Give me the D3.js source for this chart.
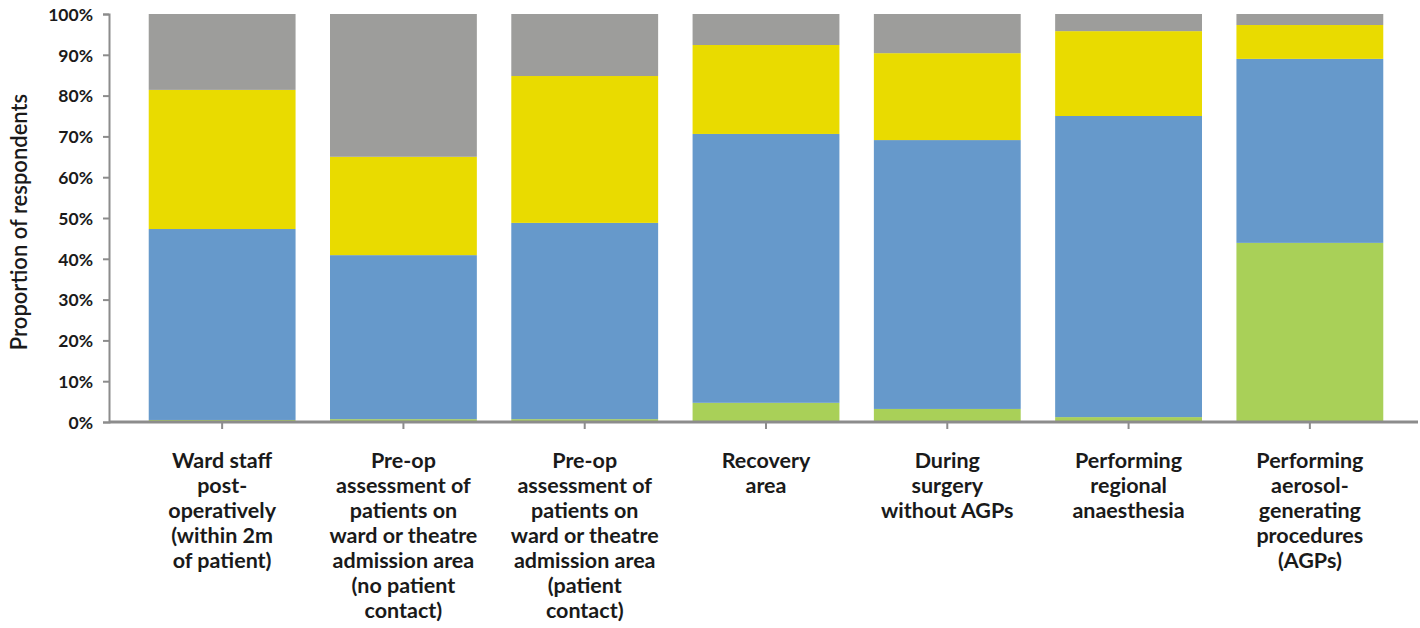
<!DOCTYPE html>
<html>
<head>
<meta charset="utf-8">
<title>Proportion of respondents</title>
<style>
  body { margin: 0; background: #fff; }
  text { font-family: Lato, "Open Sans", sans-serif; fill: #1a1a1a; }
</style>
</head>
<body>
<svg id="chart" width="1420" height="628"></svg>
<script src="https://cdn.jsdelivr.net/npm/d3@7"></script>
<script>
// categories, each one split into label lines
var categories = [
  ["Ward staff", "post-", "operatively", "(within 2m", "of patient)"],
  ["Pre-op", "assessment of", "patients on", "ward or theatre", "admission area", "(no patient", "contact)"],
  ["Pre-op", "assessment of", "patients on", "ward or theatre", "admission area", "(patient", "contact)"],
  ["Recovery", "area"],
  ["During", "surgery", "without AGPs"],
  ["Performing", "regional", "anaesthesia"],
  ["Performing", "aerosol-", "generating", "procedures", "(AGPs)"]
];

// series values, % of respondents (bottom to top)
var greenVals  = [0.5, 0.7, 0.7, 4.7, 3.2, 1.2, 43.9];
var blueVals   = [46.8, 40.2, 48.1, 65.9, 65.9, 73.8, 45.1];
var yellowVals = [34.1, 24.1, 36.0, 21.8, 21.3, 20.8, 8.3];
var greyVals   = [18.6, 35.0, 15.2, 7.6, 9.6, 4.2, 2.7];

var yTicks = [0, 10, 20, 30, 40, 50, 60, 70, 80, 90, 100];

var seriesKeys = ["green", "blue", "yellow", "grey"];
var colors = { green: "#a9d058", blue: "#6699cb", yellow: "#e9db00", grey: "#9d9d9b" };

var rows = categories.map(function(c, i) {
  return { idx: i, green: greenVals[i], blue: blueVals[i], yellow: yellowVals[i], grey: greyVals[i] };
});

var svg = d3.select("#chart");
var axisX0 = 109, axisX1 = 1418;
var y = d3.scaleLinear().domain([0, 100]).range([422, 14]);
var x = d3.scaleBand()
  .domain(d3.range(categories.length))
  .range([131.5, 1400.5])
  .paddingInner(0.19)
  .paddingOuter(0.095);

var stack = d3.stack().keys(seriesKeys);
var layers = stack(rows);

svg.append("g").selectAll("g")
  .data(layers)
  .join("g")
    .attr("fill", function(d) { return colors[d.key]; })
  .selectAll("rect")
  .data(function(d) { return d; })
  .join("rect")
    .attr("x", function(d) { return x(d.data.idx); })
    .attr("width", x.bandwidth())
    .attr("y", function(d) { return y(d[1]); })
    .attr("height", function(d) { return y(d[0]) - y(d[1]); });

// y axis
var yAxis = svg.append("g")
  .attr("transform", "translate(" + axisX0 + ",0)")
  .call(d3.axisLeft(y).tickValues(yTicks).tickSize(6).tickFormat(function(d) { return d + "%"; }));
yAxis.select(".domain").attr("stroke", "#8c8c8c").attr("stroke-width", 2);
yAxis.selectAll(".tick line").attr("stroke", "#8c8c8c").attr("stroke-width", 2);
yAxis.selectAll(".tick text")
  .attr("x", -16)
  .attr("dy", "0.36em")
  .style("font-size", "17.5px")
  .style("font-weight", 700)
  .style("font-family", "Lato, sans-serif")
  .attr("fill", "#1a1a1a");

// x axis
var xAxis = svg.append("g")
  .attr("transform", "translate(0," + y(0) + ")")
  .call(d3.axisBottom(x).tickSize(7).tickFormat(""));
xAxis.select(".domain").remove();
xAxis.selectAll(".tick line").attr("stroke", "#8c8c8c").attr("stroke-width", 2);
xAxis.append("line")
  .attr("x1", axisX0).attr("x2", axisX1)
  .attr("stroke", "#8c8c8c").attr("stroke-width", 3);

// category labels
var labels = svg.append("g").selectAll("text")
  .data(categories)
  .join("text")
    .attr("text-anchor", "middle")
    .attr("x", function(d, i) { return x(i) + x.bandwidth() / 2; })
    .attr("y", 468)
    .style("font-size", "21.5px")
    .style("font-weight", 700);
labels.selectAll("tspan")
  .data(function(d, i) { return d.map(function(s) { return { s: s, i: i }; }); })
  .join("tspan")
    .attr("x", function(d) { return x(d.i) + x.bandwidth() / 2; })
    .attr("dy", function(d, j) { return j === 0 ? 0 : 25; })
    .text(function(d) { return d.s; });

// y axis title
svg.append("text")
  .attr("transform", "translate(27,222) rotate(-90)")
  .attr("text-anchor", "middle")
  .style("font-size", "22px")
  .style("font-weight", 600)
  .text("Proportion of respondents");
</script>
</body>
</html>
